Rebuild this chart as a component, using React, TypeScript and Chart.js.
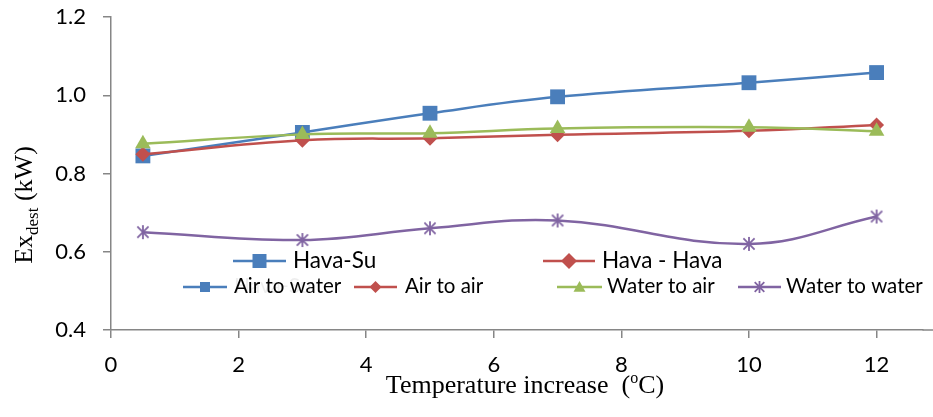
import { useEffect, useRef } from 'react';
import { Chart, registerables } from 'chart.js';

Chart.register(...registerables);

// Temperature increase (°C) at which each configuration was evaluated
const temperatureIncrease = [0.5, 3, 5, 7, 10, 12];

// Exergy destruction (kW) per heat-pump configuration
const airToWater = [0.845, 0.905, 0.954, 0.996, 1.032, 1.058];
const airToAir = [0.849, 0.885, 0.89, 0.899, 0.909, 0.924];
const waterToAir = [0.876, 0.9, 0.903, 0.915, 0.918, 0.908];
const waterToWater = [0.65, 0.63, 0.66, 0.68, 0.62, 0.69];

const seriesNames = ['Air to water', 'Air to air', 'Water to air', 'Water to water'];
const groupNames = ['Hava-Su', 'Hava - Hava'];

const xTicks = [0, 2, 4, 6, 8, 10, 12];
const yTicks = [0.4, 0.6, 0.8, 1.0, 1.2];

const BLUE = '#4a7ebb';
const RED = '#c0504d';
const GREEN = '#9bbb59';
const PURPLE = '#8064a2';
const AXIS = '#868686';
const SANS = 'Lato, "Open Sans", sans-serif';
const SERIF = '"Liberation Serif", "Times New Roman", serif';

type Marker = 'square' | 'diamond' | 'triangle' | 'asterisk';

function drawMarker(ctx: CanvasRenderingContext2D, kind: Marker, cx: number, cy: number, r: number, color: string) {
  ctx.save();
  ctx.fillStyle = color;
  ctx.strokeStyle = color;
  ctx.beginPath();
  if (kind === 'square') {
    ctx.rect(cx - r, cy - r, 2 * r, 2 * r);
    ctx.fill();
  } else if (kind === 'diamond') {
    ctx.moveTo(cx, cy - r);
    ctx.lineTo(cx + r, cy);
    ctx.lineTo(cx, cy + r);
    ctx.lineTo(cx - r, cy);
    ctx.closePath();
    ctx.fill();
  } else if (kind === 'triangle') {
    ctx.moveTo(cx, cy - r);
    ctx.lineTo(cx + r, cy + r * 0.8);
    ctx.lineTo(cx - r, cy + r * 0.8);
    ctx.closePath();
    ctx.fill();
  } else {
    ctx.lineWidth = 1.8;
    ctx.moveTo(cx - r * 0.8, cy - r * 0.8);
    ctx.lineTo(cx + r * 0.8, cy + r * 0.8);
    ctx.moveTo(cx + r * 0.8, cy - r * 0.8);
    ctx.lineTo(cx - r * 0.8, cy + r * 0.8);
    ctx.moveTo(cx, cy - r);
    ctx.lineTo(cx, cy + r);
    ctx.stroke();
  }
  ctx.restore();
}

// Six-spoke asterisk used as a point style for the water-to-water series
function asteriskCanvas(r: number, color: string): HTMLCanvasElement {
  const c = document.createElement('canvas');
  const size = Math.ceil(2 * r + 4);
  c.width = size;
  c.height = size;
  const ctx = c.getContext('2d')!;
  drawMarker(ctx, 'asterisk', size / 2, size / 2, r, color);
  return c;
}

type LegendItem = { text: string; color: string; marker: Marker; r: number; x0: number; x1: number; tx: number };

const legendRowOne: LegendItem[] = [
  { text: groupNames[0], color: BLUE, marker: 'square', r: 7, x0: 233, x1: 286, tx: 293 },
  { text: groupNames[1], color: RED, marker: 'diamond', r: 8, x0: 543, x1: 595, tx: 602 },
];

const legendRowTwo: LegendItem[] = [
  { text: seriesNames[0], color: BLUE, marker: 'square', r: 5, x0: 183, x1: 227, tx: 234 },
  { text: seriesNames[1], color: RED, marker: 'diamond', r: 6, x0: 354, x1: 397, tx: 405 },
  { text: seriesNames[2], color: GREEN, marker: 'triangle', r: 6, x0: 557, x1: 602, tx: 607 },
  { text: seriesNames[3], color: PURPLE, marker: 'asterisk', r: 6, x0: 738, x1: 781, tx: 786 },
];

function drawLegendRow(ctx: CanvasRenderingContext2D, items: LegendItem[], cy: number, baseline: number, font: string) {
  for (const it of items) {
    ctx.save();
    ctx.strokeStyle = it.color;
    ctx.lineWidth = 2.5;
    ctx.beginPath();
    ctx.moveTo(it.x0, cy);
    ctx.lineTo(it.x1, cy);
    ctx.stroke();
    drawMarker(ctx, it.marker, (it.x0 + it.x1) / 2, cy, it.r, it.color);
    ctx.fillStyle = '#000';
    ctx.font = font;
    ctx.textBaseline = 'alphabetic';
    ctx.textAlign = 'left';
    ctx.fillText(it.text, it.tx, baseline);
    ctx.restore();
  }
}

const annotations = {
  id: 'annotations',
  afterDatasetsDraw(chart: Chart) {
    const ctx = chart.ctx;
    const area = chart.chartArea;
    ctx.save();

    // carry the x-axis line on to the right edge of the canvas
    ctx.strokeStyle = AXIS;
    ctx.lineWidth = 1.5;
    ctx.beginPath();
    ctx.moveTo(area.right, area.bottom);
    ctx.lineTo(chart.width, area.bottom);
    ctx.stroke();

    // faint leftover label beneath the second legend row
    ctx.font = `21px ${SANS}`;
    ctx.fillStyle = 'rgba(0,0,0,0.07)';
    ctx.fillText(groupNames[0], 234, 293);

    drawLegendRow(ctx, legendRowOne, 261, 268, `22.5px ${SANS}`);
    drawLegendRow(ctx, legendRowTwo, 287, 293, `20.5px ${SANS}`);

    // x-axis title with superscript degree sign
    const big = `26px ${SERIF}`;
    const small = `16px ${SERIF}`;
    const partA = 'Temperature increase  (';
    const partB = 'o';
    const partC = 'C)';
    ctx.fillStyle = '#000';
    ctx.textBaseline = 'alphabetic';
    ctx.textAlign = 'left';
    ctx.font = big;
    const wA = ctx.measureText(partA).width;
    const wC = ctx.measureText(partC).width;
    ctx.font = small;
    const wB = ctx.measureText(partB).width;
    let x = 525 - (wA + wB + wC) / 2;
    const base = 393;
    ctx.font = big;
    ctx.fillText(partA, x, base);
    x += wA;
    ctx.font = small;
    ctx.fillText(partB, x, base - 10);
    x += wB;
    ctx.font = big;
    ctx.fillText(partC, x, base);

    // y-axis title with subscript
    const yA = 'Ex';
    const yB = 'dest';
    const yC = ' (kW)';
    const subFont = `17px ${SERIF}`;
    ctx.font = big;
    const vA = ctx.measureText(yA).width;
    const vC = ctx.measureText(yC).width;
    ctx.font = subFont;
    const vB = ctx.measureText(yB).width;
    const total = vA + vB + vC;
    ctx.translate(32, 205 + total / 2);
    ctx.rotate(-Math.PI / 2);
    let t = 0;
    ctx.font = big;
    ctx.fillText(yA, t, 0);
    t += vA;
    ctx.font = subFont;
    ctx.fillText(yB, t, 6);
    t += vB;
    ctx.font = big;
    ctx.fillText(yC, t, 0);

    ctx.restore();
  },
};

function toPoints(values: number[]) {
  return values.map((y, i) => ({ x: temperatureIncrease[i], y }));
}

export default function App() {
  const canvasRef = useRef<HTMLCanvasElement | null>(null);

  useEffect(() => {
    document.body.style.margin = '0';
    const canvas = canvasRef.current;
    if (!canvas) return;

    const star = asteriskCanvas(7, PURPLE);

    const common = {
      borderWidth: 2.5,
      tension: 0.4,
      fill: false,
      clip: false as const,
    };

    const chart = new Chart(canvas, {
      type: 'line',
      data: {
        datasets: [
          {
            ...common,
            label: seriesNames[0],
            data: toPoints(airToWater),
            borderColor: BLUE,
            backgroundColor: BLUE,
            pointStyle: 'rect',
            pointRadius: 10.5,
            pointBorderWidth: 0,
            order: 4,
          },
          {
            ...common,
            label: seriesNames[1],
            data: toPoints(airToAir),
            borderColor: RED,
            backgroundColor: RED,
            pointStyle: 'rectRot',
            pointRadius: 7.5,
            pointBorderWidth: 0,
            order: 3,
          },
          {
            ...common,
            label: seriesNames[2],
            data: toPoints(waterToAir),
            borderColor: GREEN,
            backgroundColor: GREEN,
            pointStyle: 'triangle',
            pointRadius: 9,
            pointBorderWidth: 0,
            order: 2,
          },
          {
            ...common,
            label: seriesNames[3],
            data: toPoints(waterToWater),
            borderColor: PURPLE,
            backgroundColor: PURPLE,
            pointStyle: star,
            pointRadius: 7,
            order: 1,
          },
        ],
      },
      options: {
        animation: false,
        responsive: false,
        devicePixelRatio: 1,
        layout: { padding: { top: 17, right: 0, left: 0, bottom: 0 } },
        plugins: {
          legend: { display: false },
          tooltip: { enabled: false },
        },
        scales: {
          x: {
            type: 'linear',
            min: 0,
            max: 12.72,
            afterBuildTicks: (scale: any) => {
              scale.ticks = xTicks.map((v) => ({ value: v }));
            },
            afterFit: (scale: any) => {
              scale.height = 87;
              scale.paddingLeft = 0;
              scale.paddingRight = 0;
            },
            grid: { drawOnChartArea: false, tickLength: 8, color: AXIS, lineWidth: 1.5 },
            border: { color: AXIS, width: 1.5 },
            ticks: {
              font: { family: SANS, size: 22 },
              color: '#000',
              padding: 14,
              maxRotation: 0,
              callback: (v: any) => String(v),
            },
          },
          y: {
            type: 'linear',
            min: 0.4,
            max: 1.2,
            afterBuildTicks: (scale: any) => {
              scale.ticks = yTicks.map((v) => ({ value: v }));
            },
            afterFit: (scale: any) => {
              scale.width = 111;
              scale.paddingTop = 0;
              scale.paddingBottom = 0;
            },
            grid: { drawOnChartArea: false, tickLength: 8, color: AXIS, lineWidth: 1.5 },
            border: { color: AXIS, width: 1.5 },
            ticks: {
              font: { family: SANS, size: 22 },
              color: '#000',
              padding: 17,
              callback: (v: any) => Number(v).toFixed(1),
            },
          },
        },
      },
      plugins: [annotations],
    });

    return () => chart.destroy();
  }, []);

  return (
    <div style={{ position: 'relative', width: 933, height: 417 }}>
      <canvas ref={canvasRef} width={933} height={417} style={{ display: 'block' }} />
    </div>
  );
}
